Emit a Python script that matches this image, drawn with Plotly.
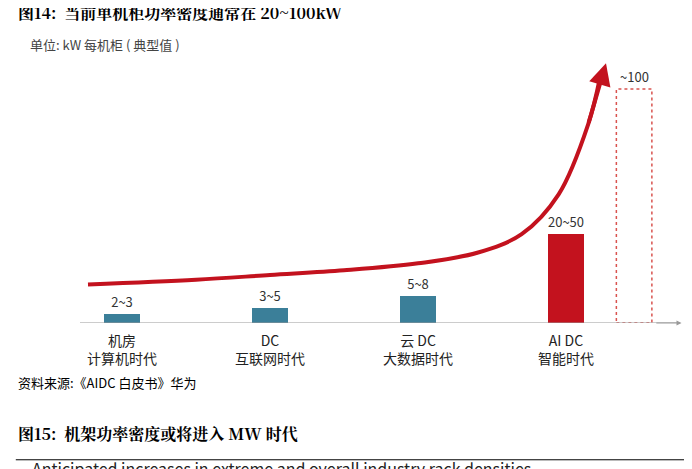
import plotly.graph_objects as go

categories = ["机房<br>计算机时代", "DC<br>互联网时代", "云 DC<br>大数据时代", "AI DC<br>智能时代"]
bar_labels = ["2~3", "3~5", "5~8", "20~50"]
bar_values = [4, 6.5, 11.5, 38]
bar_colors = ["#3b7f99", "#3b7f99", "#3b7f99", "#c3121e"]
future_value = 100
future_label = "~100"

# trend curve (x in category units)
curve_x = [-0.23, 0.5, 1.0, 1.5, 2.0, 2.4, 2.7, 2.95, 3.15, 3.23]
curve_y = [16.5, 18.5, 20.5, 22.5, 25.5, 30, 38, 55, 85, 105]

fig = go.Figure()
fig.add_trace(go.Bar(x=[0, 1, 2, 3], y=bar_values, width=0.24,
                     marker=dict(color=bar_colors, line_width=0),
                     text=bar_labels, textposition="outside",
                     textfont=dict(size=13, color="#333"), cliponaxis=False))
fig.add_trace(go.Scatter(x=curve_x, y=curve_y, mode="lines",
                         line=dict(color="#c3121e", width=4, shape="spline", smoothing=1.0)))
fig.add_annotation(x=curve_x[-1] + 0.04, y=curve_y[-1] + 6, ax=curve_x[-2], ay=curve_y[-2],
                   xref="x", yref="y", axref="x", ayref="y", text="", showarrow=True,
                   arrowhead=2, arrowsize=1.1, arrowwidth=4, arrowcolor="#c3121e")

# future rack box
fig.add_shape(type="rect", x0=3.34, x1=3.58, y0=0, y1=future_value,
              line=dict(color="#d9534f", width=1.5, dash="dot"))
fig.add_annotation(x=3.46, y=future_value, text=future_label, showarrow=False, yshift=12,
                   font=dict(size=13, color="#333"))

for i, c in enumerate(categories):
    fig.add_annotation(x=i, y=0, text=c, showarrow=False, yshift=-26,
                       font=dict(size=14, color="#222"))

# x axis arrow
fig.add_annotation(x=3.78, y=0, ax=3.6, ay=0, xref="x", yref="y", axref="x", ayref="y",
                   text="", showarrow=True, arrowhead=2, arrowwidth=1, arrowcolor="#999")

font_t = "Noto Serif CJK SC, Noto Sans CJK SC, serif"
fig.add_annotation(xref="paper", yref="paper", x=-0.107, y=1.15, xanchor="left",
                   text="<b>图14:  当前单机柜功率密度通常在 20~100kW</b>", showarrow=False,
                   font=dict(size=16, color="#000", family=font_t))
fig.add_annotation(xref="paper", yref="paper", x=-0.087, y=1.03, xanchor="left",
                   text="单位: kW 每机柜 ( 典型值 )", showarrow=False,
                   font=dict(size=13, color="#444"))
fig.add_annotation(xref="paper", yref="paper", x=-0.107, y=-0.25, xanchor="left",
                   text="资料来源:《AIDC 白皮书》华为", showarrow=False,
                   font=dict(size=13, color="#000"))
fig.add_annotation(xref="paper", yref="paper", x=-0.107, y=-0.44, xanchor="left",
                   text="<b>图15:  机架功率密度或将进入 MW 时代</b>", showarrow=False,
                   font=dict(size=16, color="#000", family=font_t))
fig.add_annotation(xref="paper", yref="paper", x=-0.083, y=-0.565, xanchor="left",
                   text="Anticipated increases in extreme and overall industry rack densities",
                   showarrow=False, font=dict(size=16, color="#222"))

fig.add_shape(type="line", xref="paper", yref="paper", x0=-0.107, x1=1.03, y0=1.128, y1=1.128,
              line=dict(color="#000", width=1))
fig.add_shape(type="line", xref="paper", yref="paper", x0=-0.107, x1=1.03, y0=-0.485, y1=-0.485,
              line=dict(color="#000", width=1))

fig.update_layout(width=692, height=469, showlegend=False, bargap=0,
                  margin=dict(l=72, r=20, t=33, b=154),
                  plot_bgcolor="white", paper_bgcolor="white",
                  font=dict(family="Noto Sans CJK SC, sans-serif"))
fig.update_xaxes(range=[-0.284, 3.77], showticklabels=False, showgrid=False, zeroline=False,
                 showline=False)
fig.update_yaxes(range=[0, 120.5], visible=False)
fig.add_shape(type="line", x0=-0.284, x1=3.77, y0=0, y1=0, line=dict(color="#999", width=1))

fig.write_html("out.html")
